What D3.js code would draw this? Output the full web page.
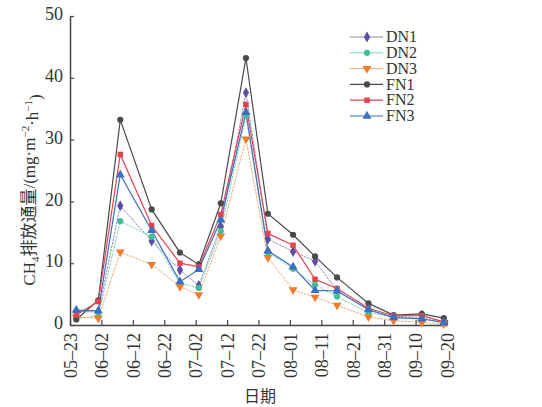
<!DOCTYPE html>
<html><head><meta charset="utf-8">
<script src="https://cdn.jsdelivr.net/npm/d3@7"></script>
<style>body{margin:0;background:#fff}svg{display:block}</style>
</head><body>
<svg id="c" width="542" height="407"></svg>
<script>
const dates = ["05-25","06-01","06-08","06-18","06-27","07-03","07-10","07-18","07-25","08-02","08-09","08-16","08-26","09-03","09-12","09-19"];
const DN1 = [2.2,2.1,19.3,13.6,8.9,6.4,15.9,37.6,13.9,11.9,10.3,5.6,2.4,1.3,1.6,0.5];
const DN2 = [1.0,1.5,16.8,14.3,6.8,6.0,15.2,33.9,11.7,9.1,6.5,4.6,2.0,1.3,1.2,0.3];
const DN3 = [1.3,1.1,11.8,9.8,6.2,4.9,14.4,30.1,10.9,5.7,4.5,3.2,1.3,0.7,0.4,0.2];
const FN1 = [0.9,4.0,33.2,18.7,11.7,9.8,19.7,43.2,18.0,14.6,11.1,7.7,3.5,1.6,1.8,1.1];
const FN2 = [1.6,3.8,27.6,16.1,10.0,9.4,17.9,35.7,14.8,12.9,7.4,5.9,2.7,1.5,1.5,0.5];
const FN3 = [2.4,2.3,24.3,15.3,7.0,9.0,17.0,34.4,12.0,9.4,5.6,5.5,2.5,1.2,1.0,0.4];
const xTicks = ["05-23","06-02","06-12","06-22","07-02","07-12","07-22","08-01","08-11","08-21","08-31","09-10","09-20"];
const yTicks = [0,10,20,30,40,50];
const seriesNames = ["DN1","DN2","DN3","FN1","FN2","FN3"];

const parse = d3.utcParse("%Y-%m-%d");
const toDate = s => parse("2020-" + s);
const series = [
  {name:"DN1", values:DN1, color:"#5a4fa3", sym:d3.symbolDiamond, size:34, dash:"2.5,1", w:0.8, op:0.85},
  {name:"DN2", values:DN2, color:"#3fbf93", sym:d3.symbolCircle, size:30, dash:"2.5,1", w:0.8, op:0.85},
  {name:"DN3", values:DN3, color:"#f27c2e", sym:d3.symbolTriangle, size:34, dash:"2.5,1", w:0.8, op:0.85, flip:true},
  {name:"FN1", values:FN1, color:"#4a4a4a", sym:d3.symbolCircle, size:30, dash:null, w:1.2, op:1},
  {name:"FN2", values:FN2, color:"#e2434f", sym:d3.symbolSquare, size:30, dash:null, w:1.2, op:1},
  {name:"FN3", values:FN3, color:"#3b6fc2", sym:d3.symbolTriangle, size:36, dash:null, w:1.2, op:1}
];

const svg = d3.select("#c");
const x = d3.scaleUtc().domain([toDate("05-23"), toDate("09-20")]).range([70, 447]);
const y = d3.scaleLinear().domain([0,50]).range([325, 16]);
const serif = "'Liberation Serif','Times New Roman',serif";

// axes
const xAxis = d3.axisBottom(x).tickValues(xTicks.map(toDate)).tickSizeInner(-5).tickSizeOuter(0).tickFormat(d => d3.utcFormat("%m–%d")(d));
const gx = svg.append("g").attr("transform","translate(0,325)").call(xAxis);
gx.select(".domain").attr("stroke","#444").attr("stroke-width",1.5);
gx.selectAll(".tick line").attr("stroke","#444").attr("stroke-width",1.2);
gx.selectAll(".tick text")
  .attr("font-family", serif).attr("font-size", 18).attr("fill","#333")
  .attr("transform","rotate(-90)").attr("text-anchor","end")
  .attr("x", -8).attr("y", 0).attr("dy","0.35em");

const yAxis = d3.axisLeft(y).tickValues(yTicks).tickSizeInner(-4).tickSizeOuter(0);
const gy = svg.append("g").attr("transform","translate(70,0)").call(yAxis);
gy.select(".domain").attr("stroke","#444").attr("stroke-width",1.5);
gy.selectAll(".tick line").attr("stroke","#444").attr("stroke-width",1.2);
gy.selectAll(".tick text").attr("font-family", serif).attr("font-size", 18).attr("fill","#333").attr("x",-7).attr("dy","0.2em");

// lines
const line = d3.line().x((d,i) => x(toDate(dates[i]))).y(d => y(d));
series.forEach(s => {
  svg.append("path").datum(s.values).attr("d", line).attr("fill","none")
    .attr("stroke", s.color).attr("stroke-width", s.w).attr("stroke-opacity", s.op)
    .attr("stroke-dasharray", s.dash);
});
series.forEach(s => {
  const sym = d3.symbol().type(s.sym).size(s.size);
  svg.append("g").selectAll("path").data(s.values).join("path")
    .attr("d", sym)
    .attr("transform", (d,i) => `translate(${x(toDate(dates[i]))},${y(d)})` + (s.flip ? " rotate(180)" : ""))
    .attr("fill", s.color);
});

// legend
const lg = svg.append("g");
series.forEach((s,i) => {
  const yy = 37 + i*15.8;
  lg.append("line").attr("x1",350).attr("x2",383).attr("y1",yy).attr("y2",yy)
    .attr("stroke", s.color).attr("stroke-width", s.w).attr("stroke-opacity", s.op);
  lg.append("path").attr("d", d3.symbol().type(s.sym).size(s.size)())
    .attr("transform", `translate(367,${yy})` + (s.flip ? " rotate(180)" : "")).attr("fill", s.color);
  lg.append("text").attr("x",386).attr("y",yy).attr("dy","0.33em")
    .attr("font-family", serif).attr("font-size",16).attr("fill","#333").text(s.name);
});

// axis titles
svg.append("text").attr("x",260).attr("y",402).attr("text-anchor","middle")
  .attr("font-family","'Noto Sans CJK SC',sans-serif").attr("font-size",16).attr("fill","#333").text("日期");

const yt = svg.append("text").attr("transform","translate(29,190) rotate(-90)").attr("text-anchor","middle")
  .attr("font-family", serif).attr("font-size",17).attr("fill","#333").attr("dy","0.35em");
yt.append("tspan").text("CH");
yt.append("tspan").attr("font-size",11).attr("dy","0.35em").text("4");
yt.append("tspan").attr("dy","-0.25em").attr("font-family","'Noto Sans CJK SC',sans-serif").text("排放通量");
yt.append("tspan").text("/(mg·m");
yt.append("tspan").attr("font-size",11).attr("dy","-0.5em").text("−2");
yt.append("tspan").attr("dy","0.5em").text("·h");
yt.append("tspan").attr("font-size",11).attr("dy","-0.5em").text("−1");
yt.append("tspan").attr("dy","0.5em").text(")");
</script>
</body></html>
